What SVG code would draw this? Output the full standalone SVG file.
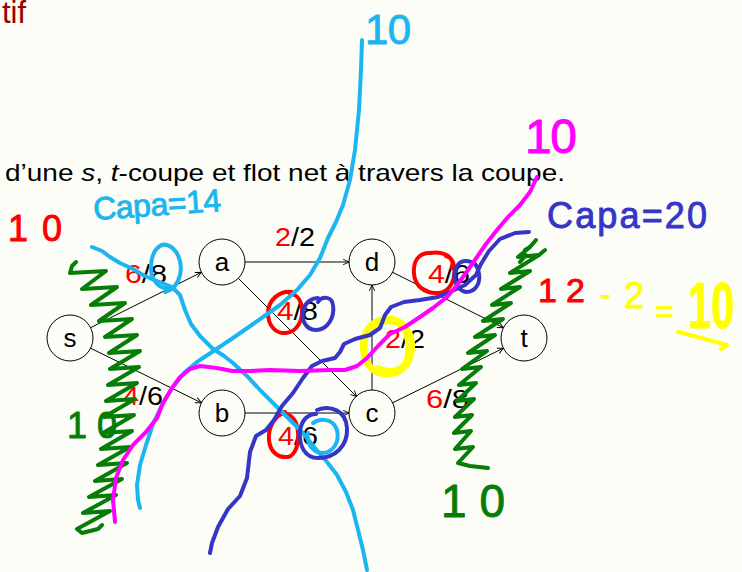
<svg xmlns="http://www.w3.org/2000/svg" width="742" height="572" viewBox="0 0 742 572">
<defs>
<marker id="arr" viewBox="0 0 10 10" refX="9.5" refY="5" markerWidth="7" markerHeight="7" orient="auto" markerUnits="userSpaceOnUse">
<path d="M1,1 L9.5,5 L1,9" fill="none" stroke="#000" stroke-width="1.3"/>
</marker>
<style>
.bg{fill:#fdfdf8}
.node circle{fill:none;stroke:#000;stroke-width:1}
.node text{font-family:"Liberation Sans",Arial,sans-serif;font-size:26px;text-anchor:middle;fill:#000}
.edge{stroke:#000;stroke-width:1;fill:none;marker-end:url(#arr)}
.lbl{font-family:"Liberation Sans",Arial,sans-serif;font-size:25px;fill:#000}
.r{fill:#ff0000}
.main{font-family:"Liberation Sans",Arial,sans-serif;font-size:24px;fill:#000}
.hw{font-family:"Liberation Sans",Arial,sans-serif;stroke-width:0.9;stroke-linejoin:round}
.ink{fill:none;stroke-width:4;stroke-linecap:round;stroke-linejoin:round}
.cy{stroke:#1cb5f0}.cyt{fill:#1cb5f0;stroke:#1cb5f0}
.mg{stroke:#ff00ff}.mgt{fill:#ff00ff;stroke:#ff00ff}
.bl{stroke:#3535c8}.blt{fill:#3535c8;stroke:#3535c8}
.gr{stroke:#067d06}.grt{fill:#067d06;stroke:#067d06}
.rd{stroke:#ff0000}.rdt{fill:#ff0000;stroke:#ff0000}
.yl{stroke:#ffff00}.ylt{fill:#ffff00;stroke:#ffff00}
</style>
</defs>
<rect class="bg" x="0" y="0" width="742" height="572"/>

<text x="2" y="23" font-family="Liberation Sans,Arial,sans-serif" font-size="31" fill="#9b0000">tif</text>
<text class="main" x="5" y="181" textLength="560" lengthAdjust="spacingAndGlyphs">d’une <tspan font-style="italic">s</tspan>, <tspan font-style="italic">t</tspan>-coupe et flot net à travers la coupe.</text>

<g id="connectors">
<line class="edge" x1="90.6" y1="327.7" x2="201.4" y2="272.3"/>
<line class="edge" x1="90.6" y1="348.2" x2="201.4" y2="402.8"/>
<line class="edge" x1="245" y1="262" x2="349" y2="262"/>
<line class="edge" x1="238.3" y1="278.3" x2="356.7" y2="396.7"/>
<line class="edge" x1="245" y1="413" x2="349" y2="413"/>
<line class="edge" x1="372" y1="390" x2="372" y2="285"/>
<line class="edge" x1="392.6" y1="272.3" x2="503.4" y2="327.7"/>
<line class="edge" x1="392.6" y1="402.8" x2="503.4" y2="348.2"/>
</g>

<g id="edge-labels">
<text class="lbl" x="125" y="283" textLength="42" lengthAdjust="spacingAndGlyphs"><tspan class="r">6</tspan>/8</text>
<text class="lbl" x="275" y="246" textLength="40" lengthAdjust="spacingAndGlyphs"><tspan class="r">2</tspan>/2</text>
<text class="lbl" x="277" y="320" textLength="41" lengthAdjust="spacingAndGlyphs"><tspan class="r">4</tspan>/8</text>
<text class="lbl" x="123" y="405" textLength="40" lengthAdjust="spacingAndGlyphs"><tspan class="r">4</tspan>/6</text>
<text class="lbl" x="278" y="445" textLength="40" lengthAdjust="spacingAndGlyphs"><tspan class="r">4</tspan>/6</text>
<text class="lbl" x="385" y="348" textLength="40" lengthAdjust="spacingAndGlyphs"><tspan class="r">2</tspan>/2</text>
<text class="lbl" x="428" y="283" textLength="42" lengthAdjust="spacingAndGlyphs"><tspan class="r">4</tspan>/6</text>
<text class="lbl" x="426" y="408" textLength="43" lengthAdjust="spacingAndGlyphs"><tspan class="r">6</tspan>/8</text>
</g>

<g id="node-s" class="node"><circle cx="70" cy="338" r="23"/><text x="70" y="347">s</text></g>
<g id="node-a" class="node"><circle cx="222" cy="262" r="23"/><text x="222" y="271">a</text></g>
<g id="node-d" class="node"><circle cx="372" cy="262" r="23"/><text x="372" y="271">d</text></g>
<g id="node-b" class="node"><circle cx="222" cy="413" r="23"/><text x="222" y="422">b</text></g>
<g id="node-c" class="node"><circle cx="372" cy="413" r="23"/><text x="372" y="422">c</text></g>
<g id="node-t" class="node"><circle cx="524" cy="338" r="23"/><text x="524" y="347">t</text></g>

<g id="annotations">
<!-- yellow -->
<path class="ink yl" stroke-width="6" d="M378,322 C398,312 414,328 413,348 C412,368 398,377 383,375 C366,373 361,356 362,342 C364,324 378,316 393,318 C408,321 413,338 411,354 C409,370 395,374 382,372 C368,370 364,354 366,340 C368,326 382,320 395,323 C407,327 409,345 406,360 C402,371 388,372 378,367"/>
<path class="ink yl" stroke-width="5" d="M678,332 C695,336 712,341 727,345 L721,349"/>
<text class="hw ylt" x="600" y="305" font-size="32">-</text>
<text class="hw ylt" x="624" y="308" font-size="36">2</text>
<text class="hw ylt" x="655" y="322" font-size="32">=</text>
<text class="hw ylt" x="688" y="328" font-size="64" font-weight="bold" textLength="46" lengthAdjust="spacingAndGlyphs">10</text>

<!-- red -->
<path class="ink rd" d="M292,292 C280,290 268,300 268,313 C268,326 276,334 286,333 C297,332 303,320 302,309 C301,299 296,294 290,294"/>
<path class="ink rd" d="M285,412 C274,416 268,428 269,440 C270,452 278,458 288,457 C296,455 299,443 298,432 C297,421 292,414 284,414"/>
<path class="ink rd" d="M430,253 C440,251 452,254 454,266 C456,280 450,292 438,293 C425,294 415,286 414,274 C413,262 418,254 428,253 M446,256 C451,257 454,262 452,268"/>
<text class="hw rdt" x="8" y="241" font-size="36" textLength="54" lengthAdjust="spacing">10</text>
<text class="hw rdt" x="538" y="302" font-size="34" textLength="47" lengthAdjust="spacing">12</text>

<!-- green -->
<polyline class="ink gr" points="76,262 72,266 70,273 106,271 82,289 117,287 91,305 125,303 99,321 132,319 105,337 137,335 109,353 140,351 110,369 139,367 108,385 137,383 106,401 135,399 104,417 134,415 103,433 132,431 101,449 130,447 98,465 127,463 95,481 122,479 89,497 116,495 83,513 110,511 77,529 82,533 98,529 102,525"/>
<polyline class="ink gr" points="525,250 530,247 518,257 539,255 510,273 530,271 501,289 520,287 492,305 511,303 483,321 503,319 475,337 495,335 468,353 487,351 462,369 481,367 459,385 476,383 457,401 474,399 455,417 472,415 454,433 471,431 455,449 473,447 458,463 470,466 488,468"/>
<path class="ink gr" d="M530,247 L536,240 M539,255 L545,250 M520,262 L526,255"/>
<text class="hw grt" x="67" y="438" font-size="36" textLength="50" lengthAdjust="spacing">10</text>
<text class="hw grt" x="441" y="517" font-size="46" textLength="64" lengthAdjust="spacing">10</text>

<!-- cyan -->
<polyline class="ink cy" points="362,40 361,70 359,110 355,150 350,180 343,205 336,222 328,238 320,258 310,275 297,290 280,305 263,317 246,329 230,340 212,352 197,362 185,372 172,388 162,405 153,424 146,445 140,465 137,485 138,500 140,508"/>
<polyline class="ink cy" points="92,247 102,251 110,257 120,263 133,269 143,275 152,279 162,283 172,287 180,295 185,310 191,324 200,336 212,348 224,356 233,363 247,376 260,390 272,402 283,413 293,423 302,432 315,448 327,462 337,475 346,492 353,510 358,530 363,550 367,570"/>
<path class="ink cy" d="M172,287 C160,292 150,280 151,265 C152,250 160,243 167,245 C177,248 183,262 180,275 C178,284 172,290 165,292"/>
<path class="ink cy" d="M313,423 C320,418 333,418 337,430 C340,442 333,453 322,453 C312,452 306,443 308,433"/>
<text class="hw cyt" x="94" y="220" font-size="32" textLength="128" lengthAdjust="spacing" transform="rotate(-4 94 220)">Capa=14</text>
<text class="hw cyt" x="365" y="44" font-size="42" textLength="46" lengthAdjust="spacing">10</text>

<!-- blue -->
<polyline class="ink bl" points="529,232 515,233 500,239 489,251 481,264 476,275 465,285 452,291 438,297 420,300 404,302 391,307 385,315 380,328 370,335 355,339 344,344 340,352 335,358 322,361 312,366 303,378 293,393 282,406 274,420 266,430 256,436 250,452 247,478 240,496 228,509 218,527 212,543 210,553"/>
<path class="ink bl" d="M478,270 C476,260 462,258 457,266 C452,276 455,290 466,292 C476,292 482,282 478,270"/>
<path class="ink bl" d="M318,302 C322,296 332,296 333,305 C335,318 327,330 316,330 C305,330 300,318 304,308 C306,302 312,298 318,298"/>
<path class="ink bl" d="M317,410 C330,405 346,410 347,428 C348,446 335,458 318,458 C305,458 299,446 300,432 C301,420 308,414 316,414"/>
<text class="hw blt" x="547" y="228" font-size="36" textLength="160" lengthAdjust="spacing">Capa=20</text>

<!-- magenta -->
<polyline class="ink mg" points="537,177 530,192 520,205 508,217 497,230 486,244 477,257 468,270 458,284 447,297 433,308 420,317 405,327 390,334 378,346 367,358 357,366 345,370 330,370 300,371 270,370 250,371 232,371 217,368 200,366 190,369 180,377 172,388 163,403 157,418 146,432 133,445 123,460 116,478 113,500 115,522"/>
<text class="hw mgt" x="525" y="153" font-size="48" textLength="52" lengthAdjust="spacing">10</text>
</g>
</svg>
